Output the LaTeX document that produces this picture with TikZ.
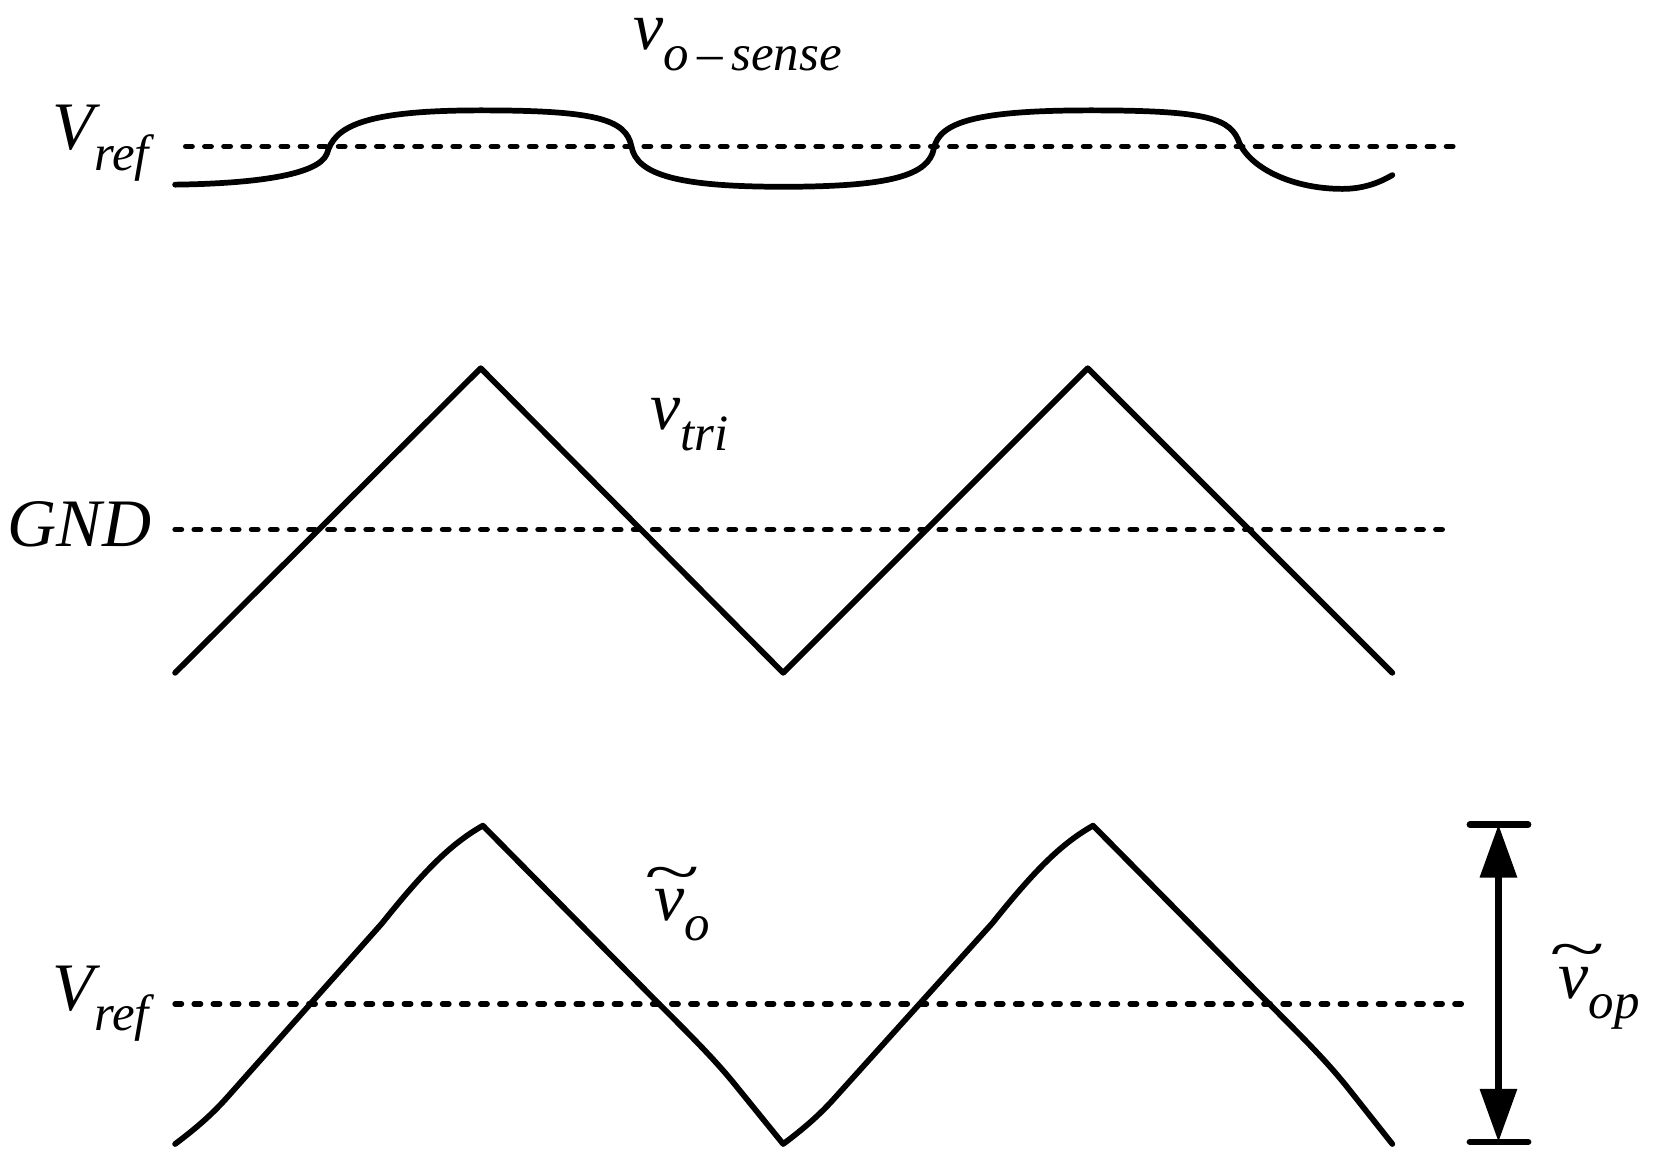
\documentclass[tikz,border=0pt]{standalone}
\usepackage{fontspec}
\setmainfont{Liberation Serif}
\usepackage{graphicx}
\usetikzlibrary{arrows.meta}
\newcommand{\lab}[2]{\itshape #1\raisebox{-0.3em}{\fontsize{24}{26}\selectfont\itshape #2}}
\newcommand{\tv}{\rlap{\makebox[0.5em][c]{\raisebox{0.42em}{\scalebox{1.5}[0.9]{\~{}}}}}v}
\begin{document}
\begin{tikzpicture}[x=0.5pt,y=-0.5pt,
  wave/.style={line width=2.7pt,line join=round,line cap=round},
  ref/.style={line width=2.6pt,line cap=round,dash pattern=on 3pt off 6pt},
  lbl/.style={font=\fontsize{32}{36}\selectfont,inner sep=0pt}]
\useasboundingbox (0,0) rectangle (1568,1101);
% top
\draw[ref] (175,138) -- (1378,138);
\draw[wave] (165,174) .. controls (240,173) and (300,165) .. (308,145)
  .. controls (315,120) and (340,104) .. (453,104)
  .. controls (560,104) and (590,112) .. (595,138)
  .. controls (600,165) and (640,176) .. (738,176)
  .. controls (840,176) and (875,165) .. (880,140)
  .. controls (885,115) and (920,104) .. (1028,104)
  .. controls (1140,104) and (1160,112) .. (1168,135)
  .. controls (1180,160) and (1220,178) .. (1265,178)
  .. controls (1285,178) and (1300,172) .. (1312,165);
\node[lbl] (l1) at (695,42) {\lab{v}{o\,--\,sense}};
\node[lbl] (l2) at (95,135) {\lab{V}{ref}};
% middle
\draw[ref] (165,499) -- (1368,499);
\draw[wave] (165,634) -- (453,347) -- (738,634) -- (1025,347) -- (1312,634);
\node[lbl] (l3) at (75,494) {\itshape GND};
\node[lbl] (l4) at (650,400) {\lab{v}{tri}};
% bottom
\draw[ref] (165,946) -- (1388,946);
\draw[wave] (165,1078) .. controls (185,1063) and (200,1050) .. (215,1033)
  -- (360,870) .. controls (400,820) and (425,795) .. (455,778)
  -- (615,940) .. controls (655,980) and (675,1000) .. (695,1025) -- (738,1078)
  .. controls (758,1063) and (773,1050) .. (788,1033)
  -- (935,870) .. controls (975,820) and (1000,795) .. (1030,778)
  -- (1190,940) .. controls (1230,980) and (1250,1000) .. (1270,1025) -- (1312,1078);
\node[lbl] (l5) at (95,946) {\lab{V}{ref}};
\node[lbl] (l6) at (643,852) {\lab{\tv}{o}};
\coordinate (a1) at (1412,777);
\coordinate (a2) at (1412,1076);
\draw[line width=3pt,line cap=round] (1385,777) -- (1440,777) (1385,1076) -- (1440,1076);
\draw[line width=3pt,{Triangle[length=25pt,width=17pt]}-{Triangle[length=25pt,width=17pt]}] (a1) -- (a2);
\node[lbl] (l7) at (1507,930) {\lab{\tv}{op}};
\end{tikzpicture}
\end{document}
